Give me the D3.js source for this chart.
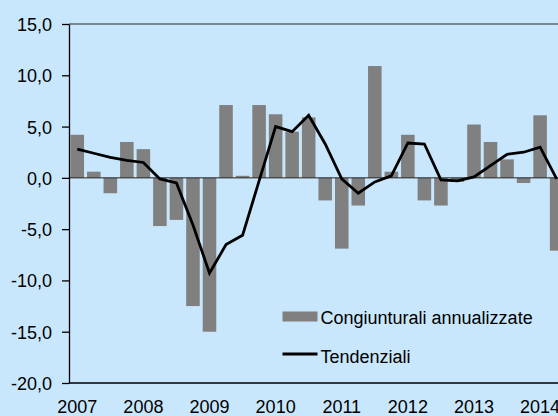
<!DOCTYPE html>
<html>
<head>
<meta charset="utf-8">
<script src="https://cdn.jsdelivr.net/npm/d3@7"></script>
<style>
  html, body { margin: 0; padding: 0; background: #c9e7fc; overflow: hidden; }
  svg { display: block; font-family: "Liberation Sans", Arial, sans-serif; }
</style>
</head>
<body>
<div id="chart"></div>
<script>
// quarterly data, 2007Q1 - 2014Q2
const years = ["2007", "2008", "2009", "2010", "2011", "2012", "2013", "2014"];
const quarters = years.flatMap(y => ["Q1", "Q2", "Q3", "Q4"].map(q => y + q));

const congiunturali = [4.2, 0.6, -1.5, 3.5, 2.8, -4.7, -4.1, -12.5,
                       -15.0, 7.1, 0.2, 7.1, 6.2, 4.5, 5.9, -2.2,
                       -6.9, -2.7, 10.9, 0.6, 4.2, -2.2, -2.7, -0.4,
                       5.2, 3.5, 1.8, -0.5, 6.1, -7.1];
const tendenziali = [2.8, 2.4, 2.0, 1.7, 1.5, -0.1, -0.5, -4.6,
                     -9.3, -6.5, -5.6, -0.3, 5.0, 4.5, 6.1, 3.3,
                     -0.1, -1.5, -0.4, 0.2, 3.4, 3.3, -0.2, -0.3,
                     0.1, 1.2, 2.3, 2.5, 3.0, -0.1];
const yTicks = [-20, -15, -10, -5, 0, 5, 10, 15];

const width = 558, height = 416;
const plotLeft = 69, plotTop = 24, plotBottom = 383;

const svg = d3.select("#chart").append("svg")
    .attr("width", width)
    .attr("height", height);

const x = d3.scaleBand()
    .domain(quarters)
    .range([plotLeft, plotLeft + 16.53 * quarters.length])
    .paddingInner(0.18)
    .paddingOuter(0.09);

const y = d3.scaleLinear()
    .domain([-20, 15])
    .range([plotBottom, plotTop]);

// italian style numbers, plain hyphen for minus
const fmt = d => d.toFixed(1).replace(".", ",");

// top border
svg.append("line")
    .attr("x1", plotLeft).attr("x2", width)
    .attr("y1", y(15)).attr("y2", y(15))
    .attr("stroke", "#5d6670").attr("stroke-width", 1.3);

// bars
svg.append("g").selectAll("rect")
    .data(congiunturali)
    .enter()
    .append("rect")
    .attr("x", (d, i) => x(quarters[i]))
    .attr("width", x.bandwidth())
    .attr("y", d => y(Math.max(0, d)))
    .attr("height", d => Math.abs(y(d) - y(0)))
    .attr("fill", "#808080");

// zero line
svg.append("line")
    .attr("x1", plotLeft).attr("x2", width)
    .attr("y1", y(0)).attr("y2", y(0))
    .attr("stroke", "#222").attr("stroke-width", 1);

// line
const line = d3.line()
    .x((d, i) => x(quarters[i]) + x.bandwidth() / 2)
    .y(d => y(d));

svg.append("path")
    .datum(tendenziali)
    .attr("d", line)
    .attr("fill", "none")
    .attr("stroke", "#000")
    .attr("stroke-width", 2.8)
    .attr("stroke-linejoin", "miter");

// y axis
const yAxis = svg.append("g")
    .attr("transform", `translate(${plotLeft},0)`)
    .call(d3.axisLeft(y).tickValues(yTicks).tickFormat(fmt).tickSize(7).tickSizeOuter(0));
yAxis.select(".domain").attr("stroke", "#000").attr("stroke-width", 1.3);
yAxis.selectAll(".tick line").attr("stroke", "#000").attr("stroke-width", 1.3);
yAxis.selectAll(".tick text")
    .attr("x", -17)
    .attr("dy", "0.36em")
    .attr("font-size", 18)
    .attr("font-family", "Liberation Sans, Arial, sans-serif")
    .attr("fill", "#000");

// x axis
const xAxis = svg.append("g")
    .attr("transform", `translate(0,${plotBottom})`)
    .call(d3.axisBottom(x)
        .tickValues(years.map(yr => yr + "Q1"))
        .tickFormat(d => d.slice(0, 4))
        .tickSize(0).tickSizeOuter(0));
xAxis.select(".domain").attr("d", `M${plotLeft},0H${width}`).attr("stroke", "#000").attr("stroke-width", 1.3);
xAxis.selectAll(".tick text")
    .attr("y", 17.5)
    .attr("dy", "0.71em")
    .attr("font-size", 18)
    .attr("font-family", "Liberation Sans, Arial, sans-serif")
    .attr("fill", "#000");

// legend
const legend = svg.append("g");
legend.append("rect")
    .attr("x", 282.5).attr("y", 311.5)
    .attr("width", 35).attr("height", 10)
    .attr("fill", "#808080");
legend.append("text")
    .attr("x", 320.5).attr("y", 323.5)
    .attr("font-size", 18)
    .text("Congiunturali annualizzate");
legend.append("line")
    .attr("x1", 282.5).attr("x2", 317.5)
    .attr("y1", 354).attr("y2", 354)
    .attr("stroke", "#000").attr("stroke-width", 2.8);
legend.append("text")
    .attr("x", 320.5).attr("y", 363)
    .attr("font-size", 18)
    .text("Tendenziali");
</script>
</body>
</html>
